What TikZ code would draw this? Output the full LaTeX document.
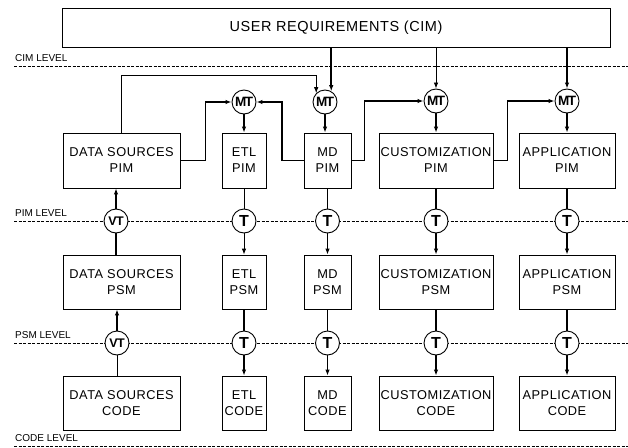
\documentclass[tikz,border=0pt]{standalone}
\usepackage{fontspec}
\setmainfont{Liberation Sans}
\newfontfamily\boxfont[LetterSpace=4]{Liberation Sans}
\usetikzlibrary{arrows.meta,calc}

\begin{document}
\begin{tikzpicture}[x=1pt,y=-1pt,
  box/.style={draw,line width=0.8pt,align=center,inner sep=0pt,
    font=\boxfont\fontsize{12.8}{16}\selectfont},
  xf/.style={circle,draw,fill=white,line width=0.9pt,minimum size=24pt,
    inner sep=0pt,font=\bfseries\fontsize{12.5}{12.5}\selectfont},
  mtf/.style={font=\bfseries\fontsize{13.5}{13.5}\selectfont},
  bigt/.style={font=\bfseries\fontsize{16}{16}\selectfont},
  levelline/.style={dash pattern=on 3pt off 1.5pt,line width=0.7pt},
  lvl/.style={anchor=base west,inner sep=0pt,font=\fontsize{10}{10}\selectfont},
  thinl/.style={line width=0.8pt},
  medl/.style={line width=1.2pt},
  heavy/.style={line width=1.8pt},
  arr/.style={-{Latex[length=6pt,width=4.5pt]}},
]
\useasboundingbox (0,0) rectangle (628,447);

% level separators
\draw[levelline] (14,66) -- (628,66);
\draw[levelline] (14,221) -- (628,221);
\draw[levelline] (14,343) -- (628,343);
\draw[levelline] (14,446) -- (628,446);
\node[lvl] (lcim) at (15,61) {CIM LEVEL};
\node[lvl] (lpim) at (15,216) {PIM LEVEL};
\node[lvl] (lpsm) at (15,338) {PSM LEVEL};
\node[lvl] (lcode) at (15,441) {CODE LEVEL};

% requirements
\node[box,minimum width=548pt,minimum height=39pt,
  font=\boxfont\fontsize{14.5}{16}\selectfont] (req) at (336,27.5) {USER REQUIREMENTS (CIM)};

% PIM row
\node[box,minimum width=117pt,minimum height=55pt] (dspim) at (121.5,160.5) {DATA SOURCES\\PIM};
\node[box,minimum width=44pt,minimum height=55pt] (epim) at (244,160.5) {ETL\\PIM};
\node[box,minimum width=47pt,minimum height=55pt] (mpim) at (327.5,160.5) {MD\\PIM};
\node[box,minimum width=114pt,minimum height=55pt] (cpim) at (436,160.5) {CUSTOMIZATION\\PIM};
\node[box,minimum width=96pt,minimum height=55pt] (apim) at (567,160.5) {APPLICATION\\PIM};

% PSM row
\node[box,minimum width=117pt,minimum height=54pt] (dspsm) at (121.5,282) {DATA SOURCES\\PSM};
\node[box,minimum width=44pt,minimum height=54pt] (epsm) at (244,282) {ETL\\PSM};
\node[box,minimum width=47pt,minimum height=54pt] (mpsm) at (327.5,282) {MD\\PSM};
\node[box,minimum width=114pt,minimum height=54pt] (cpsm) at (436,282) {CUSTOMIZATION\\PSM};
\node[box,minimum width=96pt,minimum height=54pt] (apsm) at (567,282) {APPLICATION\\PSM};

% code row
\node[box,minimum width=117pt,minimum height=54pt] (dscode) at (121.5,403) {DATA SOURCES\\CODE};
\node[box,minimum width=44pt,minimum height=54pt] (ecode) at (244,403) {ETL\\CODE};
\node[box,minimum width=47pt,minimum height=54pt] (mcode) at (327.5,403) {MD\\CODE};
\node[box,minimum width=114pt,minimum height=54pt] (ccode) at (436,403) {CUSTOMIZATION\\CODE};
\node[box,minimum width=96pt,minimum height=54pt] (acode) at (567,403) {APPLICATION\\CODE};

% merge transformations
\node[xf,mtf] (mte) at (244,102) {M\kern-1.5ptT};
\node[xf,mtf] (mtm) at (325,102) {M\kern-1.5ptT};
\node[xf,mtf] (mtc) at (436,101) {M\kern-1.5ptT};
\node[xf,mtf] (mta) at (567,101) {M\kern-1.5ptT};

% PIM to PSM transformations
\node[xf] (vt1) at (116,221) {V\kern-0.6ptT};
\node[xf,bigt] (te1) at (244,221) {T};
\node[xf,bigt] (tm1) at (327.5,221) {T};
\node[xf,bigt] (tc1) at (436,221) {T};
\node[xf,bigt] (ta1) at (567,221) {T};

% PSM to code transformations
\node[xf] (vt2) at (117,343) {V\kern-0.6ptT};
\node[xf,bigt] (te2) at (244,343) {T};
\node[xf,bigt] (tm2) at (327.5,343) {T};
\node[xf,bigt] (tc2) at (436,343) {T};
\node[xf,bigt] (ta2) at (567,343) {T};

\coordinate (dsrail) at (0,75);

% requirements feed the merge transformations
\draw[heavy,arr] (mtm.60 |- req.south) -- (mtm.60);
\draw[thinl,arr] (mtc.north |- req.south) -- (mtc.north);
\draw[heavy,arr] (mta.north |- req.south) -- (mta.north);

% chained PIM inputs
\draw[thinl,arr] (dspim.north) -- (dspim.north |- dsrail) -| (mtm.135);
\draw[heavy,arr] (dspim.east) -- ++(25,0) |- (mte.west);
\draw[heavy,arr] (mpim.west) -- ++(-22,0) |- (mte.east);
\draw[heavy,arr] (mpim.east) -- ++(13,0) |- (mtc.west);
\draw[medl,arr] (cpim.east) -- ++(14,0) |- (mta.west);

% merge results
\draw[heavy,arr] (mte) -- (epim);
\draw[heavy,arr] (mtm.south) -- (mtm.south |- mpim.north);
\draw[heavy,arr] (mtc) -- (cpim);
\draw[heavy,arr] (mta) -- (apim);

% data sources: reverse engineering
\draw[medl,arr] (vt1.north) -- (vt1.north |- dspim.south);
\draw[heavy] (vt1.south |- dspsm.north) -- (vt1.south);
\draw[medl,arr] (vt2.north) -- (vt2.north |- dspsm.south);
\draw[thinl] (vt2.south |- dscode.north) -- (vt2.south);

% PIM to PSM
\draw[thinl] (epim) -- (te1);
\draw[heavy] (mpim) -- (tm1);
\draw[heavy] (cpim) -- (tc1);
\draw[heavy] (apim) -- (ta1);
\draw[thinl,arr] (te1) -- (epsm);
\draw[heavy,arr] (tm1) -- (mpsm);
\draw[heavy,arr] (tc1) -- (cpsm);
\draw[heavy,arr] (ta1) -- (apsm);

% PSM to code
\draw[heavy] (epsm) -- (te2);
\draw[thinl] (mpsm) -- (tm2);
\draw[heavy] (cpsm) -- (tc2);
\draw[heavy] (apsm) -- (ta2);
\draw[heavy,arr] (te2) -- (ecode);
\draw[heavy,arr] (tm2) -- (mcode);
\draw[medl,arr] (tc2) -- (ccode);
\draw[medl,arr] (ta2) -- (acode);
\end{tikzpicture}
\end{document}
